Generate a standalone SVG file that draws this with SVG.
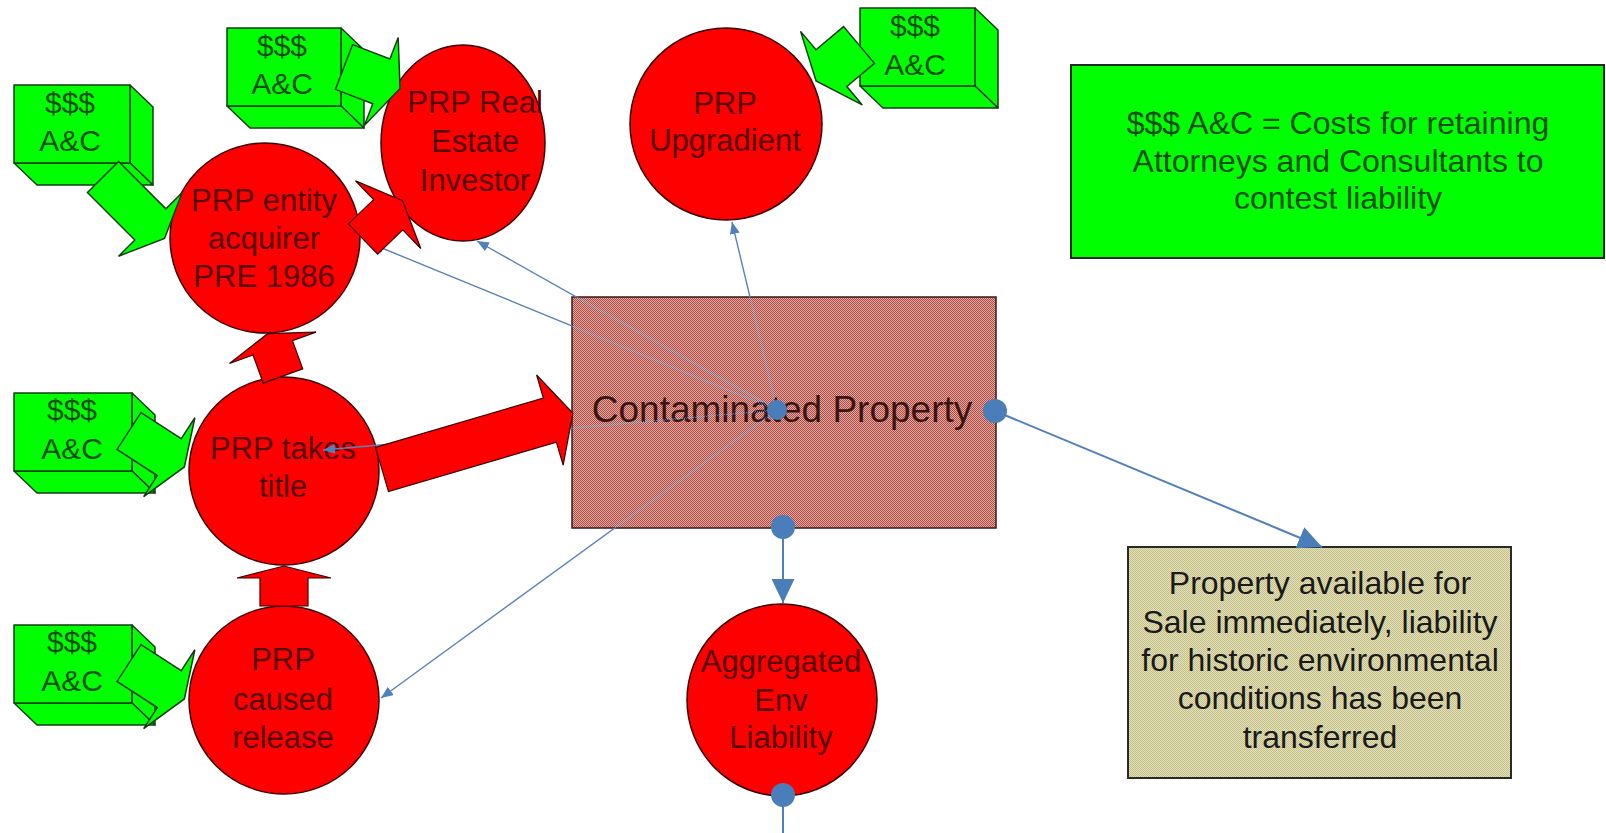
<svg xmlns="http://www.w3.org/2000/svg" width="1606" height="833" viewBox="0 0 1606 833">
<style>
text{font-family:"Liberation Sans",Arial,sans-serif;text-anchor:middle}
.circ{fill:#ff0000;stroke:#3a0000;stroke-width:1.5}
.ct{font-size:31px;fill:#560000}
.gf{fill:#00ff00;stroke:#133d13;stroke-width:1.5;stroke-linejoin:round}
.gt{font-size:30px;fill:#0d4d0d}
.ra{fill:#ff0000;stroke:#3a0000;stroke-width:1.2}
.ga{fill:#00ff00;stroke:#133d13;stroke-width:1.5}
.ln{stroke:#5b82b8;stroke-width:1.4;fill:none}
.lnb{stroke:#4f81bd;stroke-width:2;fill:none}
.dot{fill:#4a7ebb}
.lt{font-size:32px;fill:#0d4d0d}
.bt{font-size:32px;fill:#1a1a1a}
</style>
<defs>
<pattern id="hatchR" patternUnits="userSpaceOnUse" width="2" height="2">
<rect width="2" height="2" fill="#e3a8a0"/>
<rect width="1" height="1" fill="#ad4c45"/>
<rect x="1" y="1" width="1" height="1" fill="#ad4c45"/>
</pattern>
<pattern id="hatchB" patternUnits="userSpaceOnUse" width="2" height="2">
<rect width="2" height="2" fill="#e4e2bd"/>
<rect width="1" height="1" fill="#c2be86"/>
<rect x="1" y="1" width="1" height="1" fill="#c2be86"/>
</pattern>
<pattern id="dotMask" patternUnits="userSpaceOnUse" width="2" height="2">
<rect width="1" height="1" fill="#fff"/>
<rect x="1" y="1" width="1" height="1" fill="#fff"/>
</pattern>
<mask id="lineMask" maskUnits="userSpaceOnUse" x="0" y="0" width="1606" height="833">
<rect width="1606" height="833" fill="#fff"/>
<rect x="572" y="297" width="424" height="231" fill="#000"/>
<rect x="572" y="297" width="424" height="231" fill="url(#dotMask)"/>
</mask>
<marker id="arrS" markerUnits="userSpaceOnUse" markerWidth="12" markerHeight="10" refX="12" refY="5" orient="auto">
<path d="M0,0 L12,5 L0,10 z" fill="#4f81bd"/>
</marker>
<marker id="arrL" markerUnits="userSpaceOnUse" markerWidth="24" markerHeight="23" refX="24" refY="11.5" orient="auto">
<path d="M0,0 L24,11.5 L0,23 z" fill="#4a7ebb"/>
</marker>
</defs>
<rect width="1606" height="833" fill="#ffffff"/>

<g id="box-ac-1">
<polygon class="gf" points="130,85 153,107 153,185 130,163"/>
<polygon class="gf" points="14,163 130,163 153,185 37,185"/>
<rect class="gf" x="14" y="85" width="116" height="78"/>
<text class="gt" x="70" y="113">$$$</text>
<text class="gt" x="70" y="151">A&amp;C</text>
</g>
<g id="box-ac-2">
<polygon class="gf" points="341,28 364,50 364,128 341,106"/>
<polygon class="gf" points="227,106 341,106 364,128 250,128"/>
<rect class="gf" x="227" y="28" width="114" height="78"/>
<text class="gt" x="282" y="56">$$$</text>
<text class="gt" x="282" y="94">A&amp;C</text>
</g>
<g id="box-ac-3">
<polygon class="gf" points="132,393 155,415 155,493 132,471"/>
<polygon class="gf" points="14,471 132,471 155,493 37,493"/>
<rect class="gf" x="14" y="393" width="118" height="78"/>
<text class="gt" x="72" y="420">$$$</text>
<text class="gt" x="72" y="459">A&amp;C</text>
</g>
<g id="box-ac-4">
<polygon class="gf" points="132,625 155,647 155,725 132,703"/>
<polygon class="gf" points="14,703 132,703 155,725 37,725"/>
<rect class="gf" x="14" y="625" width="118" height="78"/>
<text class="gt" x="72" y="652">$$$</text>
<text class="gt" x="72" y="691">A&amp;C</text>
</g>
<g id="box-ac-5">
<polygon class="gf" points="975,8 998,30 998,108 975,86"/>
<polygon class="gf" points="860,86 975,86 998,108 883,108"/>
<rect class="gf" x="860" y="8" width="115" height="78"/>
<text class="gt" x="915" y="36">$$$</text>
<text class="gt" x="915" y="75">A&amp;C</text>
</g>

<g id="prp-entity">
<ellipse class="circ" cx="265" cy="238" rx="95" ry="95"/>
<text class="ct" x="264" y="211">PRP entity</text>
<text class="ct" x="264" y="249">acquirer</text>
<text class="ct" x="264" y="287">PRE 1986</text>
</g>
<g id="prp-real-estate">
<ellipse class="circ" cx="463" cy="143" rx="82" ry="98"/>
<text class="ct" x="475" y="113">PRP Real</text>
<text class="ct" x="475" y="152">Estate</text>
<text class="ct" x="475" y="191">Investor</text>
</g>
<g id="prp-upgradient">
<ellipse class="circ" cx="726" cy="124" rx="96" ry="96"/>
<text class="ct" x="725" y="114">PRP</text>
<text class="ct" x="725" y="151">Upgradient</text>
</g>
<g id="prp-takes-title">
<ellipse class="circ" cx="284" cy="471" rx="95" ry="94"/>
<text class="ct" x="283" y="459">PRP takes</text>
<text class="ct" x="283" y="497">title</text>
</g>
<g id="prp-caused-release">
<ellipse class="circ" cx="284" cy="700" rx="95" ry="94"/>
<text class="ct" x="283" y="670">PRP</text>
<text class="ct" x="283" y="710">caused</text>
<text class="ct" x="283" y="748">release</text>
</g>
<g id="aggregated-env-liability">
<ellipse class="circ" cx="782" cy="700" rx="95" ry="96"/>
<text class="ct" x="781" y="672">Aggregated</text>
<text class="ct" x="781" y="711">Env</text>
<text class="ct" x="781" y="748">Liability</text>
</g>

<g id="legend">
<rect x="1071" y="65" width="533" height="193" fill="#00ff00" stroke="#1f2a1f" stroke-width="2"/>
<text class="lt" x="1338" y="134">$$$ A&amp;C = Costs for retaining</text>
<text class="lt" x="1338" y="172">Attorneys and Consultants to</text>
<text class="lt" x="1338" y="209">contest liability</text>
</g>

<g id="property-available">
<rect x="1128" y="547" width="383" height="231" fill="url(#hatchB)" stroke="#2a2a2a" stroke-width="2"/>
<text class="bt" x="1320" y="594">Property available for</text>
<text class="bt" x="1320" y="633">Sale immediately, liability</text>
<text class="bt" x="1320" y="671">for historic environmental</text>
<text class="bt" x="1320" y="709">conditions has been</text>
<text class="bt" x="1320" y="748">transferred</text>
</g>

<g id="contaminated-property">
<rect x="572" y="297" width="424" height="231" fill="url(#hatchR)" stroke="#3a1a1a" stroke-width="1.5"/>
<text x="782" y="422" style="font-size:37px;fill:#3b1414">Contaminated Property</text>
</g>

<g id="connectors">
<g mask="url(#lineMask)">
<path class="ln" d="M777,410 L477,241" marker-end="url(#arrS)"/>
<path class="ln" d="M777,410 L372,244" marker-end="url(#arrS)"/>
<path class="ln" d="M777,410 L732,222" marker-end="url(#arrS)"/>
<path class="ln" d="M777,410 L323,450" marker-end="url(#arrS)"/>
<path class="ln" d="M777,410 L381,698" marker-end="url(#arrS)"/>
</g>
<path class="lnb" d="M995,411 L1322,547" marker-end="url(#arrL)"/>
<path class="lnb" d="M783,527 L783,603" marker-end="url(#arrL)"/>
<path class="lnb" d="M783,795 L783,833"/>
<circle class="dot" cx="777" cy="410" r="10"/>
<circle class="dot" cx="995" cy="411" r="12"/>
<circle class="dot" cx="783" cy="527" r="12"/>
<circle class="dot" cx="783" cy="795" r="12"/>

<polygon class="ra" transform="translate(382,469.5) rotate(-16.4)" points="0,-23 175,-23 175,-47 199,0 175,47 175,23 0,23"/>
<polygon class="ra" transform="translate(363,239) rotate(-44)" points="0,-21 35,-21 35,-47 55,0 35,47 35,21 0,21"/>
<polygon class="ra" transform="translate(283,376) rotate(-110)" points="0,-21 30,-21 30,-46 45,0 30,46 30,21 0,21"/>
<polygon class="ra" transform="translate(284,606) rotate(-90)" points="0,-24 28,-24 28,-47 40,0 28,47 28,24 0,24"/>

<polygon class="ga" transform="translate(103,177) rotate(45)" points="0,-22 67,-22 67,-45 87,0 67,45 67,22 0,22"/>
<polygon class="ga" transform="translate(344,67) rotate(21)" points="0,-24 40,-24 40,-47 60,0 40,47 40,24 0,24"/>
<polygon class="ga" transform="translate(129,431) rotate(33)" points="0,-22 48,-22 48,-47 66,0 48,47 48,22 0,22"/>
<polygon class="ga" transform="translate(129,663) rotate(33)" points="0,-22 48,-22 48,-47 66,0 48,47 48,22 0,22"/>
<polygon class="ga" transform="translate(859,45) rotate(140)" points="0,-24 36,-24 36,-48 56,0 36,48 36,24 0,24"/>
</g>
</svg>
